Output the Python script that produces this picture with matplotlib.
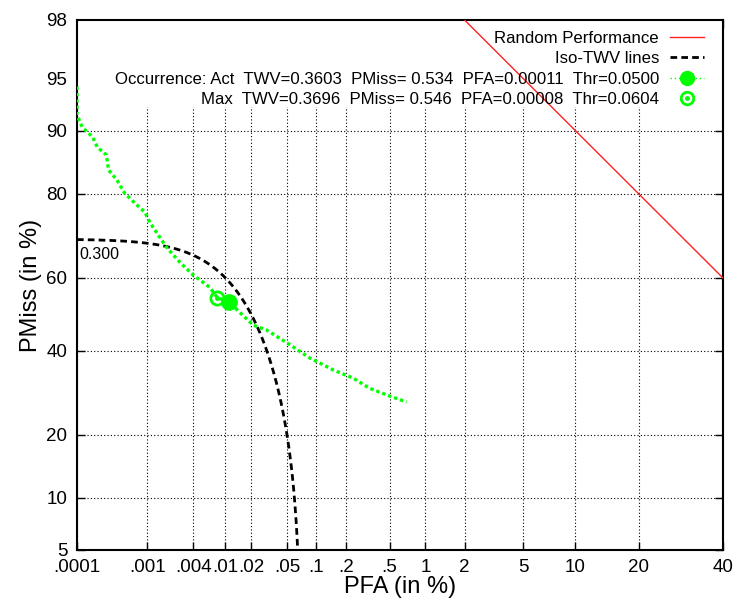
import numpy as np
import matplotlib
matplotlib.use("Agg")
import matplotlib.pyplot as plt
from matplotlib.lines import Line2D
from matplotlib.patches import Rectangle
from statistics import NormalDist

plt.rcParams['font.family'] = ['Liberation Sans', 'DejaVu Sans']

# DET curve (both in %)
det_pfa = [0.0001, 0.0001, 0.00012, 0.00017, 0.0002, 0.00027, 0.00029, 0.00038,
           0.00049, 0.00068, 0.00093, 0.0011, 0.0018, 0.0027, 0.004, 0.0064,
           0.008, 0.011, 0.021, 0.030, 0.05, 0.087, 0.149, 0.233, 0.33, 0.47, 0.70]
det_pmiss = [94.4, 91.8, 90.4, 89.2, 87.8, 86.7, 84.3, 82.6,
             80.1, 78.1, 76.2, 73.8, 68.1, 64.2, 60.8, 57.5,
             54.6, 53.4, 47.0, 45.6, 42.1, 38.0, 34.9, 32.8, 30.3, 28.7, 27.0]

# operating points (fractions, as in the legend)
act_pfa, act_pmiss = 0.00011, 0.534
max_pfa, max_pmiss = 0.00008, 0.546

# random performance line end points (%)
rand_pfa = [2.0, 40.0]
rand_pmiss = [98.0, 60.0]

# iso-TWV line: TWV = 1 - PMiss - beta * PFA
twv_level = 0.300
beta = 999.9

xticks = [0.0001, 0.001, 0.004, 0.01, 0.02, 0.05, 0.1, 0.2, 0.5, 1, 2, 5, 10, 20, 40]
xtick_labels = ['.0001', '.001', '.004', '.01', '.02', '.05', '.1', '.2', '.5',
                '1', '2', '5', '10', '20', '40']
yticks = [5, 10, 20, 40, 60, 80, 90, 95, 98]
ytick_labels = ['5', '10', '20', '40', '60', '80', '90', '95', '98']

legend_labels = [
    'Random Performance',
    'Iso-TWV lines',
    'Occurrence: Act  TWV=0.3603  PMiss= 0.534  PFA=0.00011  Thr=0.0500',
    'Max  TWV=0.3696  PMiss= 0.546  PFA=0.00008  Thr=0.0604',
]

_nd = NormalDist()
_ppf = np.vectorize(_nd.inv_cdf, otypes=[float])
_cdf = np.vectorize(_nd.cdf, otypes=[float])


def probit(p):
    p = np.clip(np.asarray(p, dtype=float) / 100.0, 1e-12, 1 - 1e-12)
    return _ppf(p)


def inv_probit(z):
    return _cdf(np.asarray(z, dtype=float)) * 100.0


green = '#00ff00'

fig = plt.figure(figsize=(7.34, 6.02), dpi=100)
ax = fig.add_axes([0.1049, 0.0864, 0.8801, 0.8804])
ax.set_xscale('function', functions=(probit, inv_probit))
ax.set_yscale('function', functions=(probit, inv_probit))
ax.set_xlim(0.0001, 40)
ax.set_ylim(5, 98)

ax.set_xticks(xticks)
ax.set_xticklabels(xtick_labels)
ax.set_yticks(yticks)
ax.set_yticklabels(ytick_labels)
ax.minorticks_off()

ax.set_axisbelow(True)
ax.grid(True, color='black', linestyle=(0, (1, 2)), linewidth=0.8)

# blank band behind the key (gnuplot opaque key)
ax.add_patch(Rectangle((0, 0.836), 1, 0.164, transform=ax.transAxes,
                       facecolor='white', edgecolor='none', zorder=1.5))

ax.plot(rand_pfa, rand_pmiss, color='#ff2020', linewidth=1.0, zorder=3)

iso_pfa = np.geomspace(1e-6, (1 - twv_level) / beta * 0.9999, 600)
iso_pmiss = 1 - twv_level - beta * iso_pfa
ax.plot(iso_pfa * 100, iso_pmiss * 100, color='black', linewidth=2.0,
        linestyle=(0, (2.4, 1.5)), zorder=3)
ax.text(0.000108, 66.3, f'{twv_level:.3f}', fontsize=11.5, ha='left', va='center')

ax.plot(det_pfa, det_pmiss, color=green, linewidth=2.4, linestyle=(0, (1, 0.9)), zorder=4)
ax.plot([act_pfa * 100], [act_pmiss * 100], 'o', color=green, markersize=11, zorder=5)
ax.plot([max_pfa * 100], [max_pmiss * 100], 'o', markerfacecolor='none',
        markeredgecolor=green, markeredgewidth=2, markersize=9.5, zorder=5)
ax.plot([max_pfa * 100], [max_pmiss * 100], 'o', color=green, markersize=2.5, zorder=5)

for s in ax.spines.values():
    s.set_linewidth(1.5)
ax.tick_params(which='both', direction='in', top=True, right=True, length=6,
               width=1, labelsize=13.5)
ax.tick_params(axis='x', pad=6.5)
ax.tick_params(axis='y', pad=7)

ax.set_xlabel('PFA (in %)', fontsize=17, labelpad=0)
ax.set_ylabel('PMiss (in %)', fontsize=17, labelpad=3)

h_rand = Line2D([], [], color='#ff2020', linewidth=1.0)
h_iso = Line2D([], [], color='black', linewidth=2.0, linestyle=(0, (2.4, 1.5)))
h_act = Line2D([], [], color=green, linewidth=1.0, linestyle=(0, (1, 2)),
               marker='o', markersize=10)
h_max_ring = Line2D([], [], linestyle='none', marker='o', markerfacecolor='none',
                    markeredgecolor=green, markeredgewidth=2, markersize=9)
h_max_dot = Line2D([], [], linestyle='none', marker='o', color=green, markersize=2.5)

leg = ax.legend([h_rand, h_iso, h_act, (h_max_ring, h_max_dot)], legend_labels,
                loc='upper right', bbox_to_anchor=(0.97, 0.979), frameon=False,
                markerfirst=False, fontsize=12.1, handlelength=2.0,
                handletextpad=0.65, labelspacing=0.31, borderpad=0,
                borderaxespad=0)
leg.set_zorder(6)

fig.savefig('out.png', dpi=100)
